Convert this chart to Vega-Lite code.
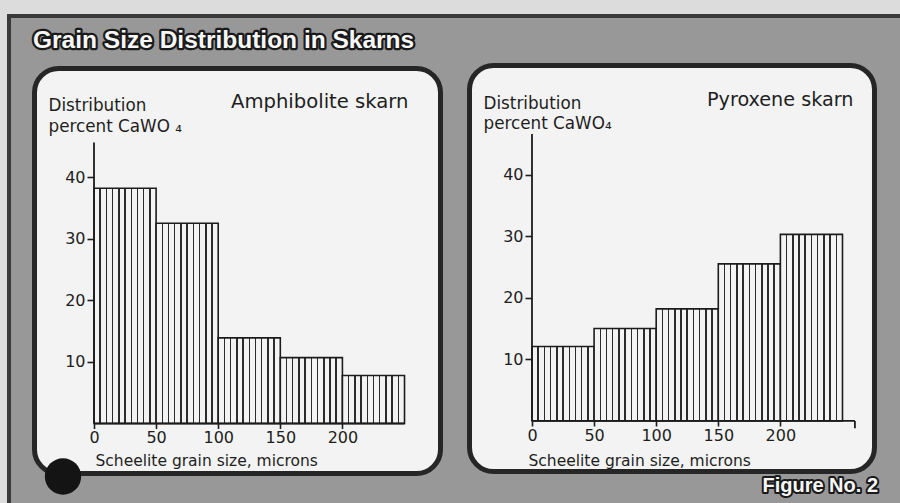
{
  "$schema": "https://vega.github.io/schema/vega-lite/v6.json",
  "background": "#dcdcdc",
  "padding": {"left": 7, "top": 13, "right": 0, "bottom": 0},
  "bounds": "flush",
  "spacing": 34,
  "datasets": {
    "bins": [
      {"panel": "Amphibolite skarn", "start": 0, "end": 50, "pct": 38.2},
      {"panel": "Amphibolite skarn", "start": 50, "end": 100, "pct": 32.5},
      {"panel": "Amphibolite skarn", "start": 100, "end": 150, "pct": 13.9},
      {"panel": "Amphibolite skarn", "start": 150, "end": 200, "pct": 10.7},
      {"panel": "Amphibolite skarn", "start": 200, "end": 250, "pct": 7.8},
      {"panel": "Pyroxene skarn", "start": 0, "end": 50, "pct": 12.1},
      {"panel": "Pyroxene skarn", "start": 50, "end": 100, "pct": 15.0},
      {"panel": "Pyroxene skarn", "start": 100, "end": 150, "pct": 18.2},
      {"panel": "Pyroxene skarn", "start": 150, "end": 200, "pct": 25.5},
      {"panel": "Pyroxene skarn", "start": 200, "end": 250, "pct": 30.3}
    ],
    "one": [{}]
  },
  "hconcat": [
    {
      "width": 401,
      "height": 401,
      "layer": [
        {
          "data": {"name": "one"},
          "mark": {"type": "rect", "fill": "#3a3a3a"},
          "encoding": {
            "x": {
              "datum": -70.05, "type": "quantitative",
              "scale": {"domain": [-45.9, 276.96], "nice": false, "zero": false},
              "axis": {
                "orient": "bottom", "offset": -46.5, "values": [0, 50, 100, 150, 200], "zindex": 2,
                "tickSize": 5, "labelPadding": 1,
                "title": "Scheelite grain size, microns",
                "titleX": 58, "titleY": 42, "titleAlign": "left", "titleBaseline": "alphabetic", "titleAngle": 0
              }
            },
            "x2": {"datum": 652.98},
            "y": {
              "datum": 66.48, "type": "quantitative",
              "scale": {"domain": [-7.55, 57.55], "nice": false, "zero": false},
              "axis": {
                "orient": "left", "offset": -57, "values": [10, 20, 30, 40], "zindex": 2,
                "tickSize": 7, "labelPadding": 2,
                "title": ["Distribution", "percent CaWO ₄"], "titleFontSize": 16.8,
                "titleX": -46, "titleY": 41, "titleAlign": "left", "titleBaseline": "alphabetic", "titleAngle": 0, "titleLineHeight": 21
              }
            },
            "y2": {"datum": -14.2}
          }
        },
        {
          "data": {"name": "one"},
          "mark": {"type": "rect", "fill": "#989898"},
          "encoding": {
            "x": {"datum": -66.83, "type": "quantitative"},
            "x2": {"datum": 652.98},
            "y": {"datum": 65.83, "type": "quantitative"},
            "y2": {"datum": -14.2}
          }
        },
        {
          "data": {"name": "one"},
          "mark": {"type": "rect", "fill": "#f3f3f3", "stroke": "#262626", "strokeWidth": 5, "cornerRadius": 24},
          "encoding": {
            "x": {"datum": -47.91, "type": "quantitative"},
            "x2": {"datum": 278.98},
            "y": {"datum": -8.12, "type": "quantitative"},
            "y2": {"datum": 57.63}
          }
        },
        {
          "data": {"name": "one"},
          "mark": {"type": "point", "shape": "circle", "filled": true, "fill": "#141414", "opacity": 1, "size": 1320, "strokeWidth": 0},
          "encoding": {
            "x": {"datum": -24.97, "type": "quantitative"},
            "y": {"datum": -8.6, "type": "quantitative"}
          }
        },
        {
          "data": {"name": "one"},
          "mark": {"type": "text", "text": "Grain Size Distribution in Skarns", "font": "Liberation Sans", "fontWeight": "bold", "fontSize": 24.5, "align": "left", "baseline": "alphabetic", "fill": "#1a1a1a", "stroke": "#1a1a1a", "strokeWidth": 4.5, "strokeJoin": "round"},
          "encoding": {
            "x": {"datum": -49.12, "type": "quantitative"},
            "y": {"datum": 60.96, "type": "quantitative"}
          }
        },
        {
          "data": {"name": "one"},
          "mark": {"type": "text", "text": "Grain Size Distribution in Skarns", "font": "Liberation Sans", "fontWeight": "bold", "fontSize": 24.5, "align": "left", "baseline": "alphabetic", "fill": "#f7f7f7"},
          "encoding": {
            "x": {"datum": -49.12, "type": "quantitative"},
            "y": {"datum": 60.96, "type": "quantitative"}
          }
        },
        {
          "data": {"name": "bins"},
          "transform": [{"filter": "datum.panel === 'Amphibolite skarn'"}],
          "mark": {
            "type": "rect",
            "stroke": "#1c1c1c",
            "strokeWidth": 1.6,
            "fill": {
              "gradient": "linear", "x1": 0, "y1": 0, "x2": 1, "y2": 0,
              "stops": [
                {"offset": 0, "color": "#f3f3f3"},
                {"offset": 0.088, "color": "#f3f3f3"}, {"offset": 0.088, "color": "#2b2b2b"}, {"offset": 0.112, "color": "#2b2b2b"}, {"offset": 0.112, "color": "#f3f3f3"},
                {"offset": 0.188, "color": "#f3f3f3"}, {"offset": 0.188, "color": "#2b2b2b"}, {"offset": 0.212, "color": "#2b2b2b"}, {"offset": 0.212, "color": "#f3f3f3"},
                {"offset": 0.288, "color": "#f3f3f3"}, {"offset": 0.288, "color": "#2b2b2b"}, {"offset": 0.312, "color": "#2b2b2b"}, {"offset": 0.312, "color": "#f3f3f3"},
                {"offset": 0.388, "color": "#f3f3f3"}, {"offset": 0.388, "color": "#2b2b2b"}, {"offset": 0.412, "color": "#2b2b2b"}, {"offset": 0.412, "color": "#f3f3f3"},
                {"offset": 0.488, "color": "#f3f3f3"}, {"offset": 0.488, "color": "#2b2b2b"}, {"offset": 0.512, "color": "#2b2b2b"}, {"offset": 0.512, "color": "#f3f3f3"},
                {"offset": 0.588, "color": "#f3f3f3"}, {"offset": 0.588, "color": "#2b2b2b"}, {"offset": 0.612, "color": "#2b2b2b"}, {"offset": 0.612, "color": "#f3f3f3"},
                {"offset": 0.688, "color": "#f3f3f3"}, {"offset": 0.688, "color": "#2b2b2b"}, {"offset": 0.712, "color": "#2b2b2b"}, {"offset": 0.712, "color": "#f3f3f3"},
                {"offset": 0.788, "color": "#f3f3f3"}, {"offset": 0.788, "color": "#2b2b2b"}, {"offset": 0.812, "color": "#2b2b2b"}, {"offset": 0.812, "color": "#f3f3f3"},
                {"offset": 0.888, "color": "#f3f3f3"}, {"offset": 0.888, "color": "#2b2b2b"}, {"offset": 0.912, "color": "#2b2b2b"}, {"offset": 0.912, "color": "#f3f3f3"},
                {"offset": 1, "color": "#f3f3f3"}
              ]
            }
          },
          "encoding": {
            "x": {"field": "start", "type": "quantitative"},
            "x2": {"field": "end"},
            "y": {"field": "pct", "type": "quantitative"},
            "y2": {"datum": 0}
          }
        },
        {
          "data": {"name": "one"},
          "mark": {"type": "rule", "color": "#1c1c1c", "strokeWidth": 1.8},
          "encoding": {
            "x": {"datum": 0, "type": "quantitative"},
            "y": {"datum": 0, "type": "quantitative"},
            "y2": {"datum": 45.6}
          }
        },
        {
          "data": {"name": "one"},
          "mark": {"type": "rule", "color": "#1c1c1c", "strokeWidth": 1.8},
          "encoding": {
            "x": {"datum": 0, "type": "quantitative"},
            "x2": {"datum": 250},
            "y": {"datum": 0, "type": "quantitative"}
          }
        },
        {
          "data": {"name": "one"},
          "mark": {"type": "text", "text": "Amphibolite skarn", "font": "DejaVu Sans", "fontSize": 19.6, "align": "left", "baseline": "alphabetic", "fill": "#1e1e1e"},
          "encoding": {
            "x": {"datum": 110.3, "type": "quantitative"},
            "y": {"datum": 51.22, "type": "quantitative"}
          }
        }
      ]
    },
    {
      "width": 400,
      "height": 401,
      "layer": [
        {
          "data": {"name": "one"},
          "mark": {"type": "rect", "fill": "#f3f3f3", "stroke": "#262626", "strokeWidth": 5, "cornerRadius": 24},
          "encoding": {
            "x": {
              "datum": -50.31, "type": "quantitative",
              "scale": {"domain": [-48.3, 273.76], "nice": false, "zero": false},
              "axis": {
                "orient": "bottom", "offset": -49, "values": [0, 50, 100, 150, 200], "zindex": 2,
                "tickSize": 5, "labelPadding": 1,
                "title": "Scheelite grain size, microns",
                "titleX": 56, "titleY": 44.5, "titleAlign": "left", "titleBaseline": "alphabetic", "titleAngle": 0
              }
            },
            "x2": {"datum": 275.77},
            "y": {
              "datum": -8.2, "type": "quantitative",
              "scale": {"domain": [-7.96, 57.14], "nice": false, "zero": false},
              "axis": {
                "orient": "left", "offset": -60, "values": [10, 20, 30, 40], "zindex": 2,
                "tickSize": 7, "labelPadding": 2,
                "title": ["Distribution", "percent CaWO₄"], "titleFontSize": 16.8,
                "titleX": -49, "titleY": 39, "titleAlign": "left", "titleBaseline": "alphabetic", "titleAngle": 0, "titleLineHeight": 20
              }
            },
            "y2": {"datum": 57.71}
          }
        },
        {
          "data": {"name": "bins"},
          "transform": [{"filter": "datum.panel === 'Pyroxene skarn'"}],
          "mark": {
            "type": "rect",
            "stroke": "#1c1c1c",
            "strokeWidth": 1.6,
            "fill": {
              "gradient": "linear", "x1": 0, "y1": 0, "x2": 1, "y2": 0,
              "stops": [
                {"offset": 0, "color": "#f3f3f3"},
                {"offset": 0.088, "color": "#f3f3f3"}, {"offset": 0.088, "color": "#2b2b2b"}, {"offset": 0.112, "color": "#2b2b2b"}, {"offset": 0.112, "color": "#f3f3f3"},
                {"offset": 0.188, "color": "#f3f3f3"}, {"offset": 0.188, "color": "#2b2b2b"}, {"offset": 0.212, "color": "#2b2b2b"}, {"offset": 0.212, "color": "#f3f3f3"},
                {"offset": 0.288, "color": "#f3f3f3"}, {"offset": 0.288, "color": "#2b2b2b"}, {"offset": 0.312, "color": "#2b2b2b"}, {"offset": 0.312, "color": "#f3f3f3"},
                {"offset": 0.388, "color": "#f3f3f3"}, {"offset": 0.388, "color": "#2b2b2b"}, {"offset": 0.412, "color": "#2b2b2b"}, {"offset": 0.412, "color": "#f3f3f3"},
                {"offset": 0.488, "color": "#f3f3f3"}, {"offset": 0.488, "color": "#2b2b2b"}, {"offset": 0.512, "color": "#2b2b2b"}, {"offset": 0.512, "color": "#f3f3f3"},
                {"offset": 0.588, "color": "#f3f3f3"}, {"offset": 0.588, "color": "#2b2b2b"}, {"offset": 0.612, "color": "#2b2b2b"}, {"offset": 0.612, "color": "#f3f3f3"},
                {"offset": 0.688, "color": "#f3f3f3"}, {"offset": 0.688, "color": "#2b2b2b"}, {"offset": 0.712, "color": "#2b2b2b"}, {"offset": 0.712, "color": "#f3f3f3"},
                {"offset": 0.788, "color": "#f3f3f3"}, {"offset": 0.788, "color": "#2b2b2b"}, {"offset": 0.812, "color": "#2b2b2b"}, {"offset": 0.812, "color": "#f3f3f3"},
                {"offset": 0.888, "color": "#f3f3f3"}, {"offset": 0.888, "color": "#2b2b2b"}, {"offset": 0.912, "color": "#2b2b2b"}, {"offset": 0.912, "color": "#f3f3f3"},
                {"offset": 1, "color": "#f3f3f3"}
              ]
            }
          },
          "encoding": {
            "x": {"field": "start", "type": "quantitative"},
            "x2": {"field": "end"},
            "y": {"field": "pct", "type": "quantitative"},
            "y2": {"datum": 0}
          }
        },
        {
          "data": {"name": "one"},
          "mark": {"type": "rule", "color": "#1c1c1c", "strokeWidth": 1.8},
          "encoding": {
            "x": {"datum": 0, "type": "quantitative"},
            "y": {"datum": 0, "type": "quantitative"},
            "y2": {"datum": 46.6}
          }
        },
        {
          "data": {"name": "one"},
          "mark": {"type": "rule", "color": "#1c1c1c", "strokeWidth": 1.8},
          "encoding": {
            "x": {"datum": 0, "type": "quantitative"},
            "x2": {"datum": 260},
            "y": {"datum": 0, "type": "quantitative"}
          }
        },
        {
          "data": {"name": "one"},
          "mark": {"type": "rule", "color": "#1c1c1c", "strokeWidth": 1.8},
          "encoding": {
            "x": {"datum": 260, "type": "quantitative"},
            "y": {"datum": 0, "type": "quantitative"},
            "y2": {"datum": -1.2}
          }
        },
        {
          "data": {"name": "one"},
          "mark": {"type": "text", "text": "Pyroxene skarn", "font": "DejaVu Sans", "fontSize": 19.2, "align": "left", "baseline": "alphabetic", "fill": "#1e1e1e"},
          "encoding": {
            "x": {"datum": 140.9, "type": "quantitative"},
            "y": {"datum": 51.13, "type": "quantitative"}
          }
        },
        {
          "data": {"name": "one"},
          "mark": {"type": "text", "text": "Figure No. 2", "font": "Liberation Sans", "fontWeight": "bold", "fontSize": 20, "align": "right", "baseline": "alphabetic", "fill": "#1a1a1a", "stroke": "#1a1a1a", "strokeWidth": 4, "strokeJoin": "round"},
          "encoding": {
            "x": {"datum": 278.6, "type": "quantitative"},
            "y": {"datum": -11.6, "type": "quantitative"}
          }
        },
        {
          "data": {"name": "one"},
          "mark": {"type": "text", "text": "Figure No. 2", "font": "Liberation Sans", "fontWeight": "bold", "fontSize": 20, "align": "right", "baseline": "alphabetic", "fill": "#f7f7f7"},
          "encoding": {
            "x": {"datum": 278.6, "type": "quantitative"},
            "y": {"datum": -11.6, "type": "quantitative"}
          }
        }
      ]
    }
  ],
  "config": {
    "view": {"stroke": null},
    "axis": {
      "domain": false,
      "grid": false,
      "labelFont": "DejaVu Sans",
      "labelFontSize": 16,
      "labelColor": "#1e1e1e",
      "tickColor": "#1e1e1e",
      "tickWidth": 1.6,
      "titleFont": "DejaVu Sans",
      "titleFontSize": 15.5,
      "titleFontWeight": "normal",
      "titleColor": "#1e1e1e"
    }
  }
}
